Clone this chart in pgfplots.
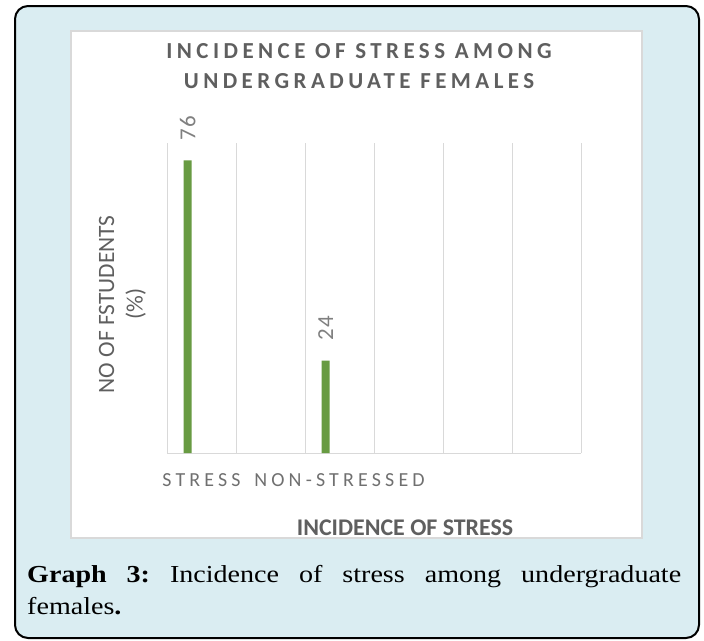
\documentclass[border=0pt]{standalone}
\usepackage{fontspec}
\setmainfont[FakeStretch=1.15]{Liberation Serif}
\newfontfamily\chartfont{Carlito}
\newfontfamily\titlefont[LetterSpace=19.5]{Carlito}
\newfontfamily\tickfont[LetterSpace=21]{Carlito}
\newfontfamily\valfont[LetterSpace=6]{Carlito}
\usepackage{pgfplots}
\pgfplotsset{compat=1.18}
\definecolor{bgblue}{RGB}{218,237,242}
\definecolor{gridgray}{RGB}{217,217,217}
\definecolor{txtgray}{RGB}{95,95,95}
\definecolor{tickgray}{RGB}{112,112,112}
\definecolor{lblgray}{RGB}{128,128,128}
\definecolor{bargreen}{RGB}{104,155,66}
\begin{document}
\frenchspacing
\begin{tikzpicture}
\path[use as bounding box] (0,0) rectangle (704bp,-641bp);
\draw[line width=2bp, fill=bgblue, rounded corners=13bp] (15bp,-6bp) rectangle (699bp,-638bp);
\draw[gridgray, line width=1.5bp, fill=white] (71bp,-31bp) rectangle (642bp,-538bp);
\begin{axis}[
  at={(167bp,-453bp)}, anchor=south west,
  scale only axis, width=414bp, height=310bp,
  xmin=0, xmax=6, ymin=0, ymax=80.5,
  /pgf/number format/assume math mode=true,
  axis line style={draw=none},
  major tick length=0pt,
  major grid style={gridgray, line width=1bp},
  xtick={0.5,2.5}, xticklabels={STRESS,NON-STRESSED},
  xticklabel style={font=\tickfont\fontsize{20}{24}\selectfont, text=tickgray, anchor=north, inner sep=0pt, yshift=-20bp},
  extra x ticks={0,1,2,3,4,5,6}, extra x tick labels={},
  extra x tick style={grid=major},
  ytick={0}, yticklabels={}, ymajorgrids,
  ybar, bar width=8bp,
  nodes near coords,
  every node near coord/.append style={font=\valfont\fontsize{23}{26}\selectfont, text=lblgray, rotate=90, anchor=west, inner xsep=20bp, inner ysep=0pt},
  title={INCIDENCE OF STRESS AMONG\\UNDERGRADUATE FEMALES},
  title style={at={(axis description cs:0.4638,1.3032)}, anchor=north, align=center, inner sep=0pt, font=\titlefont\bfseries\fontsize{23}{30}\selectfont, text=txtgray},
  xlabel={INCIDENCE OF STRESS},
  xlabel style={at={(axis description cs:0.575,-0.2645)}, anchor=base, inner sep=0pt, font=\chartfont\bfseries\fontsize{24}{28}\selectfont, text=txtgray},
  ylabel={NO OF FSTUDENTS\\(\%)},
  ylabel style={at={(axis description cs:-0.0507,0.48)}, anchor=south, align=center, inner sep=0pt, font=\chartfont\fontsize{23.5}{28.5}\selectfont, text=txtgray},
]
\addplot[fill=bargreen, draw=none] coordinates {(0.3,76) (2.3,24)};
\end{axis}
\node[anchor=north west, inner sep=0pt, align=left, font=\fontsize{24.5}{32}\selectfont] at (27bp,-565.5bp)
  {\makebox[654bp][s]{\textbf{Graph 3:} Incidence of stress among undergraduate}\\ females\textbf{.}};
\end{tikzpicture}
\end{document}
